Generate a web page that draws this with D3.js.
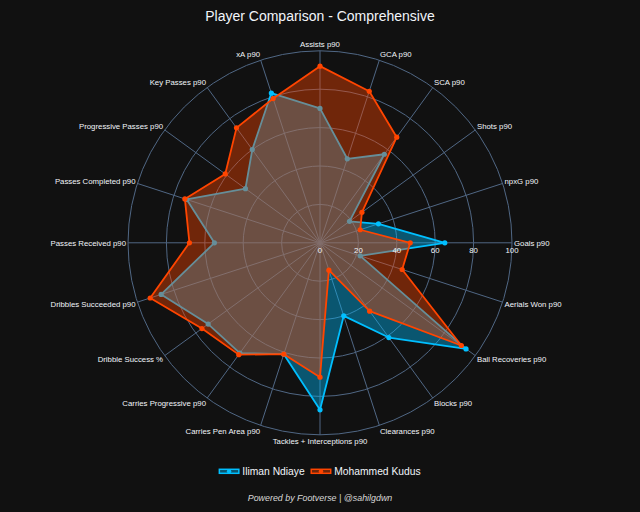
<!DOCTYPE html>
<html>
<head>
<meta charset="utf-8">
<script src="https://cdn.jsdelivr.net/npm/d3@7"></script>
<style>
  html, body { margin: 0; padding: 0; background: #111111; }
  svg { display: block; font-family: "Liberation Sans", Arial, sans-serif; }
</style>
</head>
<body>
<svg id="chart" width="640" height="512"></svg>
<script>
// ---- data ----
const categories = [
  "Assists p90", "GCA p90", "SCA p90", "Shots p90", "npxG p90", "Goals p90",
  "Aerials Won p90", "Ball Recoveries p90", "Blocks p90", "Clearances p90",
  "Tackles + Interceptions p90", "Carries Pen Area p90", "Carries Progressive p90",
  "Dribble Success %", "Dribbles Succeeded p90", "Passes Received p90",
  "Passes Completed p90", "Progressive Passes p90", "Key Passes p90", "xA p90"
];
const ndiayeValues = [70, 46, 57, 19, 32, 65, 22, 94, 61, 40, 87, 61, 71, 72, 87, 55, 73, 48, 60, 82];
const kudusValues  = [92, 83, 68, 27, 22, 47, 45, 91, 44, 15, 70, 61, 72, 76, 93, 68, 74, 61, 74, 79];
const seriesNames = ["Iliman Ndiaye", "Mohammed Kudus"];
const radialTicks = [0, 20, 40, 60, 80, 100];
const titleText = "Player Comparison - Comprehensive";
const footerText = "Powered by Footverse | @sahilgdwn";

// ---- layout ----
const W = 640, H = 512;
const cx = 320, cy = 242.8, R = 192;
const gridColor = "#506784";
const textColor = "#f2f5fa";
const colors = ["#00BFFF", "#FF4500"];

const svg = d3.select("#chart");
svg.append("rect").attr("width", W).attr("height", H).attr("fill", "#111111");

const rScale = d3.scaleLinear().domain([0, 100]).range([0, R]);
const aScale = d3.scaleLinear().domain([0, categories.length]).range([0, 2 * Math.PI]);

const g = svg.append("g").attr("transform", `translate(${cx},${cy})`);

// grid circles
g.append("g").selectAll("circle")
  .data(radialTicks.filter(t => t > 0))
  .join("circle")
  .attr("r", d => rScale(d))
  .attr("fill", "none")
  .attr("stroke", gridColor)
  .attr("stroke-width", 1);

// spokes
g.append("g").selectAll("line")
  .data(categories)
  .join("line")
  .attr("x1", 0).attr("y1", 0)
  .attr("x2", (d, i) => rScale(100) * Math.sin(aScale(i)))
  .attr("y2", (d, i) => -rScale(100) * Math.cos(aScale(i)))
  .attr("stroke", gridColor)
  .attr("stroke-width", 1);

// traces
const radial = d3.lineRadial()
  .angle((d, i) => aScale(i))
  .radius(d => rScale(d))
  .curve(d3.curveLinearClosed);

[ndiayeValues, kudusValues].forEach((vals, si) => {
  const tg = g.append("g");
  tg.append("path")
    .attr("d", radial(vals))
    .attr("fill", colors[si])
    .attr("fill-opacity", 0.4)
    .attr("stroke", colors[si])
    .attr("stroke-width", 1.8)
    .attr("stroke-linejoin", "round");
  tg.selectAll("circle")
    .data(vals)
    .join("circle")
    .attr("cx", (d, i) => rScale(d) * Math.sin(aScale(i)))
    .attr("cy", (d, i) => -rScale(d) * Math.cos(aScale(i)))
    .attr("r", 2.6)
    .attr("fill", colors[si]);
});

// radial tick labels (along the Goals axis, pointing right)
g.append("g").selectAll("text")
  .data(radialTicks)
  .join("text")
  .attr("x", d => rScale(d))
  .attr("y", 7)
  .attr("dy", "0.35em")
  .attr("text-anchor", "middle")
  .attr("font-size", 7.8)
  .attr("fill", textColor)
  .text(d => d);

// angular labels
g.append("g").selectAll("text")
  .data(categories)
  .join("text")
  .each(function (d, i) {
    const a = aScale(i);
    const s = Math.sin(a), c = Math.cos(a);
    const ex = rScale(100) * s, ey = -rScale(100) * c;
    const anchor = Math.abs(s) < 0.1 ? "middle" : (s > 0 ? "start" : "end");
    d3.select(this)
      .attr("x", ex + s * 2)
      .attr("y", ey - c * 6.6)
      .attr("dy", "0.35em")
      .attr("text-anchor", anchor);
  })
  .attr("font-size", 7.8)
  .attr("fill", textColor)
  .text(d => d);

// title
svg.append("text")
  .attr("x", W / 2).attr("y", 20.6)
  .attr("text-anchor", "middle")
  .attr("font-size", 14)
  .attr("fill", textColor)
  .text(titleText);

// legend
const legend = svg.append("g");
let lx = 0;
const items = seriesNames.map((name, si) => {
  const it = legend.append("g");
  it.append("rect")
    .attr("x", 0).attr("y", -2).attr("width", 19.5).attr("height", 4)
    .attr("fill", colors[si]).attr("fill-opacity", 0.4)
    .attr("stroke", colors[si]).attr("stroke-width", 1.5);
  it.append("circle").attr("cx", 9.75).attr("cy", 0).attr("r", 2.2).attr("fill", colors[si]);
  const t = it.append("text")
    .attr("x", 23).attr("dy", "0.35em")
    .attr("font-size", 10.3)
    .attr("fill", textColor)
    .text(name);
  const w = 23 + t.node().getComputedTextLength();
  it.attr("transform", `translate(${lx},0)`);
  lx += w + 6.5;
  return it;
});
const legendWidth = lx - 6.5;
legend.attr("transform", `translate(${W / 2 - legendWidth / 2},471.3)`);

// footer
svg.append("text")
  .attr("x", W / 2).attr("y", 498)
  .attr("dy", "0.35em")
  .attr("text-anchor", "middle")
  .attr("font-size", 8.9)
  .attr("font-style", "italic")
  .attr("fill", "#d8d8d8")
  .text(footerText);
</script>
</body>
</html>
